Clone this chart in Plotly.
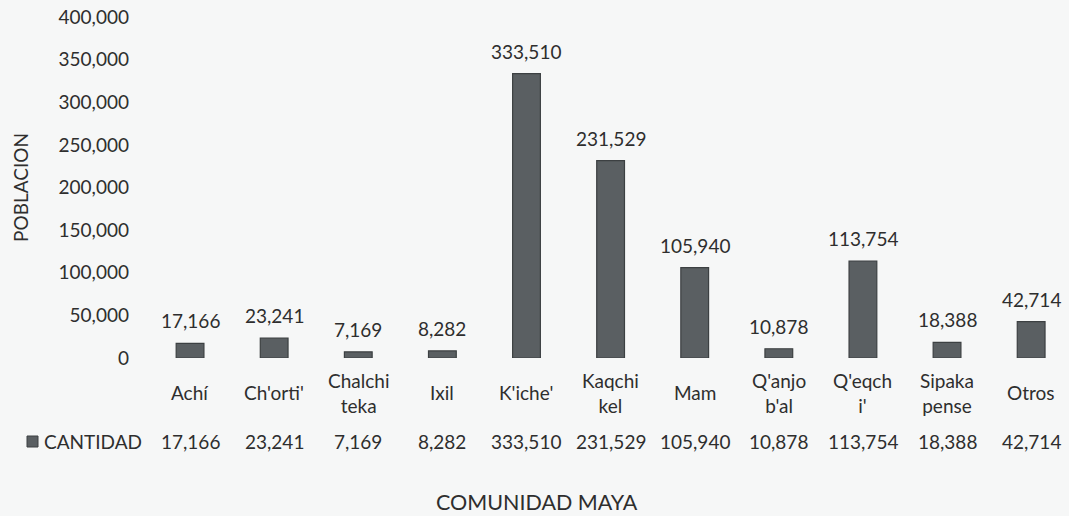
import plotly.graph_objects as go

categories = ["Achí", "Ch'orti'", "Chalchiteka", "Ixil", "K'iche'", "Kaqchikel",
              "Mam", "Q'anjob'al", "Q'eqchi'", "Sipakapense", "Otros"]
tick_labels = ["Achí", "Ch'orti'", "Chalchi<br>teka", "Ixil", "K'iche'", "Kaqchi<br>kel",
               "Mam", "Q'anjo<br>b'al", "Q'eqch<br>i'", "Sipaka<br>pense", "Otros"]
values = [17166, 23241, 7169, 8282, 333510, 231529, 105940, 10878, 113754, 18388, 42714]
series_name = "CANTIDAD"
y_ticks = [0, 50000, 100000, 150000, 200000, 250000, 300000, 350000, 400000]

W, H = 1069, 516
left, right, top, bottom = 148, 0, 17, 158
FONT = "Lato"
TXT = "#2e2e2e"
FS = 19
BAR = "#5a5f62"
BG = "#f6f7f7"

xs = list(range(len(categories)))
fig = go.Figure()
fig.add_trace(go.Bar(
    x=xs, y=values, width=0.33,
    marker=dict(color=BAR, line=dict(color="#3c4042", width=1.2)),
    name=series_name, showlegend=False,
))

def py(p):
    return (H - bottom - p) / (H - top - bottom)
def px(p):
    return (p - left) / (W - left - right)

ann = []
for i, v in enumerate(values):
    ann.append(dict(x=i, y=v, xref="x", yref="y", text=f"{v:,}", showarrow=False,
                    yanchor="bottom", yshift=9, font=dict(size=FS, color=TXT)))
    ann.append(dict(x=i, y=py(393), xref="x", yref="paper", text=tick_labels[i],
                    showarrow=False, yanchor="middle", font=dict(size=FS, color=TXT)))
    ann.append(dict(x=i, y=py(441), xref="x", yref="paper", text=f"{v:,}",
                    showarrow=False, yanchor="middle", font=dict(size=FS, color=TXT)))

ann.append(dict(x=px(42), y=py(441), xref="paper", yref="paper",
                text=series_name, showarrow=False, xanchor="left", yanchor="middle",
                font=dict(size=FS, color=TXT)))
ann.append(dict(x=px(537), y=py(502), xref="paper", yref="paper",
                text="COMUNIDAD MAYA", showarrow=False, xanchor="center", yanchor="middle",
                font=dict(size=21.5, color=TXT)))

shapes = [dict(type="rect", xref="paper", yref="paper",
               x0=px(27), x1=px(38), y0=py(447), y1=py(436),
               fillcolor=BAR, line=dict(color="#3c4042", width=1))]

fig.update_layout(
    width=W, height=H,
    margin=dict(l=left, r=right, t=top, b=bottom, pad=0),
    paper_bgcolor=BG, plot_bgcolor=BG,
    font=dict(family=FONT, size=FS, color=TXT),
    annotations=ann, shapes=shapes,
    xaxis=dict(range=[-0.5, 10.45], showticklabels=False, showgrid=False,
               zeroline=False, showline=False, ticks=""),
    yaxis=dict(range=[0, 400000], tickvals=y_ticks, tickformat=",", showgrid=False,
               zeroline=False, showline=False, ticks="", ticklabelstandoff=18,
               title=dict(text="POBLACION", standoff=24, font=dict(size=FS, color=TXT))),
)
fig.write_html("out.html", config={"displayModeBar": False},
               post_script="document.body.style.margin='0';document.body.style.background='" + BG + "';")
